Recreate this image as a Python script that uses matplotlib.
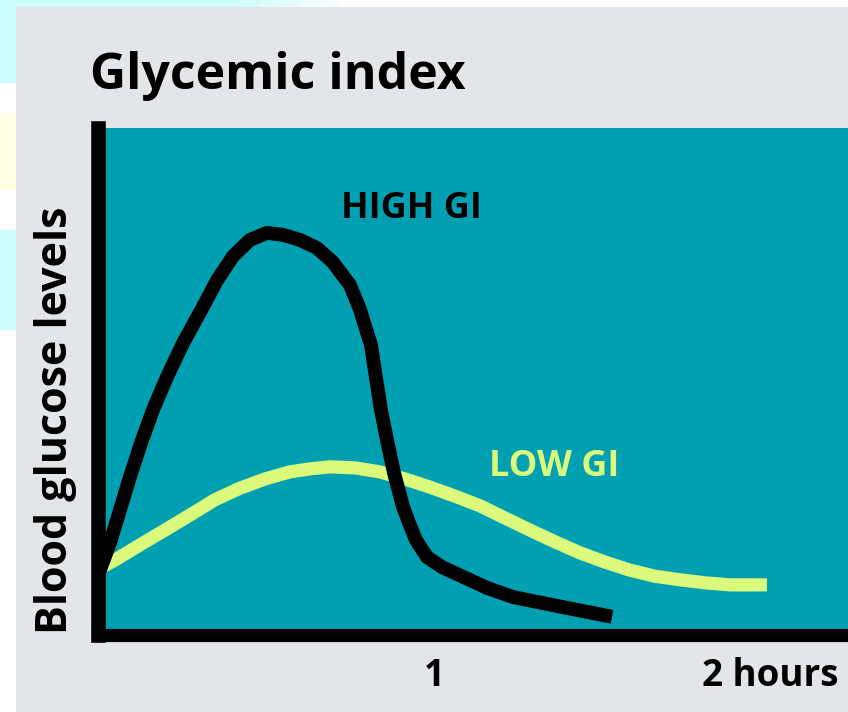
import matplotlib
matplotlib.use("Agg")
import matplotlib.pyplot as plt
from matplotlib.patches import Rectangle

# ---- data ----
high_x = [0.0, 0.0357, 0.0655, 0.0952, 0.128, 0.164, 0.205, 0.253, 0.310, 0.354,
          0.402, 0.452, 0.503, 0.551, 0.601, 0.652, 0.699, 0.750, 0.780, 0.798,
          0.8125, 0.827, 0.842, 0.860, 0.881, 0.908, 0.926, 0.946, 0.979, 1.024,
          1.086, 1.158, 1.235, 1.384, 1.530]
high_y = [11.7, 18.1, 24.6, 31.1, 37.8, 44.4, 50.8, 57.5, 64.4, 69.9,
          74.7, 77.9, 79.3, 78.9, 77.9, 76.3, 73.5, 69.0, 64.1, 60.2,
          57.2, 50.8, 44.4, 38.4, 31.9, 25.2, 22.0, 18.7, 15.3, 13.3,
          11.4, 9.2, 7.4, 5.4, 3.5]

low_x = [0.0, 0.0506, 0.125, 0.199, 0.274, 0.348, 0.423, 0.497, 0.571, 0.631,
         0.690, 0.765, 0.839, 0.914, 0.988, 1.063, 1.137, 1.211, 1.286, 1.360,
         1.435, 1.509, 1.583, 1.658, 1.732, 1.807, 1.881, 1.991]
low_y = [12.9, 14.7, 17.7, 20.6, 23.6, 26.6, 28.9, 30.7, 32.1, 32.7,
         33.1, 32.9, 32.1, 30.7, 29.1, 27.3, 25.4, 23.0, 20.6, 18.3,
         16.1, 14.3, 12.7, 11.5, 10.8, 10.2, 9.8, 9.8]

tick_positions = [1, 2]
tick_labels = ["1", "2 hours"]
title = "Glycemic index"
ylabel = "Blood glucose levels"
high_label = "HIGH GI"
low_label = "LOW GI"

# ---- styling ----
W, H = 848, 712
FONT = ["Open Sans", "DejaVu Sans"]
TEAL = "#00a0b2"
YELLOW = "#dbfa7c"
GRAY = "#e3e6e9"
CYAN = "#ccfcfc"

fig = plt.figure(figsize=(W / 100, H / 100), dpi=100, facecolor="white")

def px(x0, y0, w, h):
    return (x0 / W, 1 - (y0 + h) / H, w / W, h / H)

panels = [
    (0, 0, 240, 8, CYAN, 1.0),
    (0, 0, 16, 83, CYAN, 1.0),
    (0, 113, 16, 77, "#fffde2", 1.0),
    (0, 230, 16, 100, CYAN, 1.0),
]
# fading end of the top cyan band
for i in range(10):
    panels.append((240 + i * 10, 0, 10, 8, CYAN, 1 - (i + 1) / 11))
panels.append((16, 7, W - 16, H - 7, GRAY, 1.0))
for (x0, y0, w, h, c, a) in panels:
    fx, fy, fw, fh = px(x0, y0, w, h)
    fig.patches.append(Rectangle((fx, fy), fw, fh, transform=fig.transFigure,
                                 facecolor=c, edgecolor="none", alpha=a,
                                 zorder=-10))

left_px, top_px, bottom_px = 98, 128, 634.5
ax = fig.add_axes([left_px / W, 1 - bottom_px / H, (W - left_px) / W,
                   (bottom_px - top_px) / H])
ax.set_facecolor(TEAL)

ax.plot(low_x, low_y, color=YELLOW, lw=9.5, solid_capstyle="butt",
        solid_joinstyle="round", zorder=2)
ax.plot(high_x, high_y, color="black", lw=10, solid_capstyle="butt",
        solid_joinstyle="round", zorder=3)

ax.set_xlim(0, (W - left_px) / 336)
ax.set_ylim(0, 100)

for s in ["top", "right"]:
    ax.spines[s].set_visible(False)
ax.spines["left"].set_linewidth(10.5)
ax.spines["bottom"].set_linewidth(9.5)
ax.spines["bottom"].set_capstyle("projecting")
for s in ["left", "bottom"]:
    ax.spines[s].set_color("black")
    ax.spines[s].set_zorder(5)

ax.set_yticks([])
ax.set_xticks(tick_positions)
ax.set_xticklabels(tick_labels, fontfamily=FONT, fontweight="bold", fontsize=26.5)
ax.tick_params(axis="x", length=0, pad=16)

ax.text(0.932, 84.0, high_label, color="black", fontfamily=FONT,
        fontweight="bold", fontsize=26, ha="center", va="center")
ax.text(1.357, 33.0, low_label, color=YELLOW, fontfamily=FONT,
        fontweight="bold", fontsize=26, ha="center", va="center")

fig.text(90 / W, 1 - 89 / H, title, fontfamily=FONT, fontweight="bold",
         fontsize=36, ha="left", va="baseline")
fig.text(67 / W, 1 - 420 / H, ylabel, fontfamily=FONT, fontweight="bold",
         fontsize=31, rotation=90, rotation_mode="anchor",
         ha="center", va="baseline")

fig.savefig("out.png", dpi=100, facecolor=fig.get_facecolor())
